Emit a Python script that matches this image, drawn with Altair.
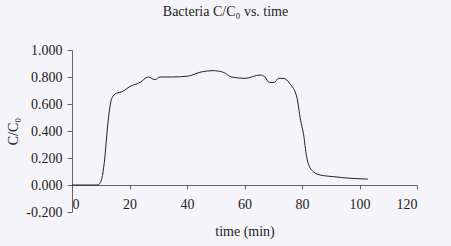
import altair as alt
import pandas as pd

time_min = [0, 5, 9, 9.6, 10.4, 11.2, 12.6, 13.8, 15.5, 17.3, 20.2, 23.7, 26.5, 28.9, 30.6,
            35, 40.5, 44.5, 49.1, 52.6, 55.5, 60.2, 65.4, 67.1, 68.6, 70.4, 71.8, 73.5,
            75.8, 78.2, 79.5, 80.5, 81.6, 83.4, 86.3, 90.9, 96.7, 102.9]
c_ratio = [0, 0, 0, 0.01, 0.05, 0.16, 0.48, 0.64, 0.68, 0.69, 0.73, 0.76, 0.80, 0.78, 0.80,
           0.80, 0.807, 0.835, 0.847, 0.835, 0.80, 0.79, 0.815, 0.80, 0.76, 0.76, 0.79, 0.79,
           0.75, 0.65, 0.48, 0.38, 0.21, 0.11, 0.074, 0.062, 0.05, 0.044]

df = pd.DataFrame({"t": time_min, "c": c_ratio})

FONT = "Liberation Serif"

common = dict(labelFont=FONT, titleFont=FONT, labelFontSize=14, titleFontSize=14,
              labelColor="#222222", titleColor="#222222", titleFontWeight="normal",
              grid=False, domainColor="#666666", tickColor="#666666")

chart = alt.Chart(df).mark_line(color="#222222", strokeWidth=1.0, interpolate="monotone").encode(
    x=alt.X("t:Q", scale=alt.Scale(domain=[0, 120], nice=False),
            axis=alt.Axis(values=[0, 20, 40, 60, 80, 100, 120], format="d", title="time (min)",
                          offset=-27, tickSize=4, labelPadding=8, titlePadding=13, **common)),
    y=alt.Y("c:Q", scale=alt.Scale(domain=[-0.2, 1.0], nice=False, zero=False),
            axis=alt.Axis(values=[-0.2, 0, 0.2, 0.4, 0.6, 0.8, 1.0], title="C/C₀",
                          labelExpr="replace(format(datum.value, '.3f'), '\u2212', '-')",
                          tickSize=5, labelPadding=5, titlePadding=5, **common)),
).properties(
    width=345, height=162,
    title=alt.TitleParams("Bacteria C/C₀ vs. time", font=FONT, fontSize=14, fontWeight="normal",
                          color="#222222", anchor="middle", dx=-19, offset=24),
    autosize=alt.AutoSizeParams(type="none"),
    padding={"left": 72, "top": 50, "right": 34, "bottom": 34},
    background="#f5f5f9",
).configure_view(stroke=None)

chart.save("out.html", embed_options={"renderer": "svg", "actions": False})
